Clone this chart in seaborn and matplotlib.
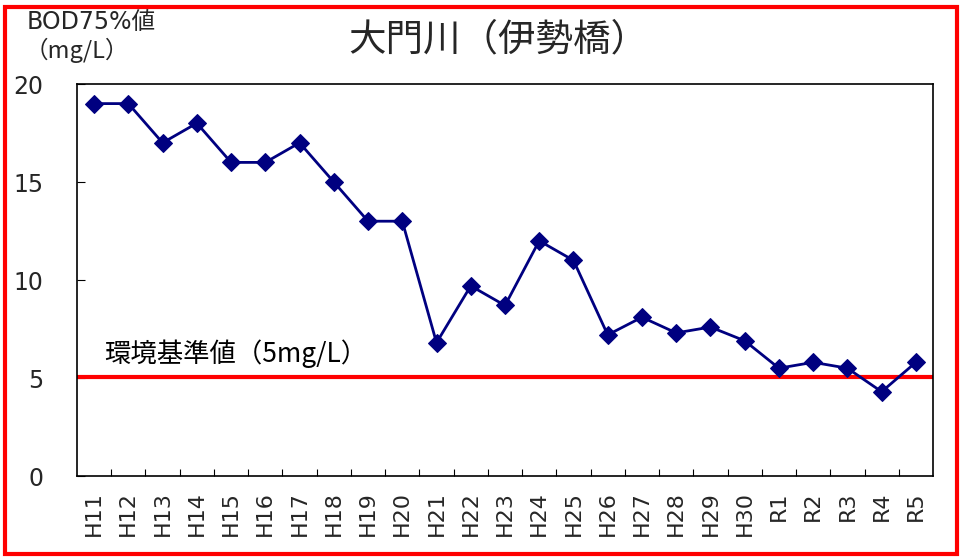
import matplotlib
matplotlib.use("Agg")
import matplotlib.pyplot as plt
import seaborn as sns
import pandas as pd
from matplotlib.patches import Rectangle

years = ["H11", "H12", "H13", "H14", "H15", "H16", "H17", "H18", "H19", "H20",
         "H21", "H22", "H23", "H24", "H25", "H26", "H27", "H28", "H29", "H30",
         "R1", "R2", "R3", "R4", "R5"]
bod75 = [19, 19, 17, 18, 16, 16, 17, 15, 13, 13,
         6.8, 9.7, 8.7, 12.0, 11.0, 7.2, 8.1, 7.3, 7.6, 6.9,
         5.5, 5.8, 5.5, 4.3, 5.8]
standard = 5
yticks = [0, 5, 10, 15, 20]

title = "大門川（伊勢橋）"
ylabel1 = "BOD75%値"
ylabel2 = "（mg/L）"
std_label = "環境基準値（5mg/L）"

sns.set_theme(style="white")
plt.rcParams['font.family'] = ['DejaVu Sans', 'Noto Sans CJK JP']

df = pd.DataFrame({"year": years, "bod": bod75})

fig = plt.figure(figsize=(9.62, 5.58), dpi=100)
ax = fig.add_axes([77/962, 1-476/558, (933-77)/962, (476-84)/558])

ax.axhline(standard + 0.07, color="#ff0000", lw=3, zorder=1)
sns.lineplot(data=df, x="year", y="bod", ax=ax, color="#000080", lw=2,
             marker="D", markersize=9, markeredgecolor="#000080", zorder=3, sort=False)

ax.set_xlim(-0.5, len(years) - 0.5)
ax.set_ylim(0, 20)
ax.set_yticks(yticks)
ax.set_yticklabels([str(v) for v in yticks], fontsize=17, family="DejaVu Sans")
ax.set_xticks(range(len(years)))
ax.set_xticklabels(years, rotation=90, fontsize=16, family="DejaVu Sans")
ax.set_xticks([i + 0.5 for i in range(len(years) - 1)], minor=True)
ax.tick_params(axis="x", which="major", length=0, pad=11)
ax.tick_params(axis="x", which="minor", direction="in", length=5, width=0.8, color="black", bottom=True)
ax.tick_params(axis="y", which="major", direction="in", length=6, width=0.8, color="black", left=True, pad=24)
ax.set_xlabel("")
ax.set_ylabel("")
for s in ax.spines.values():
    s.set_color("black")
    s.set_linewidth(1.2)

ax.text(0.3, 5.5, std_label, fontsize=19, ha="left", va="bottom", color="black",
        family=['Noto Sans CJK JP', 'DejaVu Sans'])

fig.text(498/962, 1-40/558, title, fontsize=27, ha="center", va="center",
         family=['Noto Sans CJK JP', 'DejaVu Sans'])
fig.text(27/962, 1-22/558, ylabel1, fontsize=17, ha="left", va="center")
fig.text(25/962, 1-50/558, ylabel2, fontsize=17, ha="left", va="center",
         family=['Noto Sans CJK JP', 'DejaVu Sans'])

fig.patches.append(Rectangle((5/962, 4/558), (957-5)/962, (553-6)/558,
                             transform=fig.transFigure, fill=False,
                             edgecolor="#ff0000", lw=3, figure=fig))

fig.savefig("out.png", dpi=100)
